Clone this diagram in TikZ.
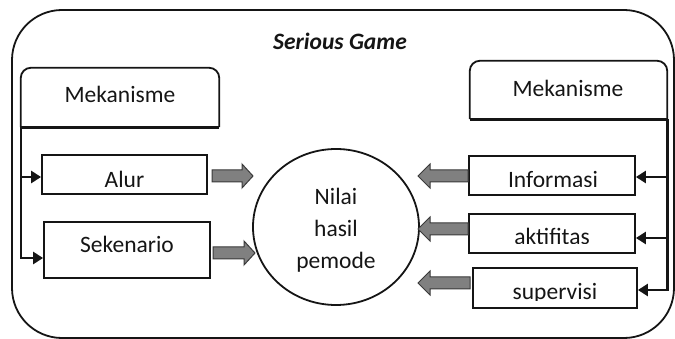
\documentclass[tikz,border=0pt]{standalone}
\usepackage{fontspec}
\setmainfont{Carlito}
\usetikzlibrary{arrows.meta,shapes.geometric}
\definecolor{arrowfill}{HTML}{808080}
\definecolor{arrowline}{HTML}{3A3A3A}
\definecolor{ink}{HTML}{151515}
\tikzset{
  box/.style={draw=ink,line width=1.8pt,rectangle,inner sep=0pt},
  header/.style={rectangle,inner sep=0pt},
  lbl/.style={inner sep=0pt,anchor=base,font=\fontsize{23.5}{28}\selectfont,text=ink},
  conn/.style={draw=ink,line width=2.6pt,-{Triangle[length=10pt,width=12pt]}},
  blockarrow/.style={draw=arrowline,fill=arrowfill,line width=1pt,line join=miter}
}
% #1 tail x, #2 head-base x, #3 tip x, #4 centre y
\newcommand\myblockarrow[4]{%
  \draw[blockarrow] (#1,{#4-6}) -- (#2,{#4-6}) -- (#2,{#4-12}) -- (#3,#4)
    -- (#2,{#4+12}) -- (#2,{#4+6}) -- (#1,{#4+6}) -- cycle;}
\begin{document}
\begin{tikzpicture}[x=1pt,y=-1pt]
\useasboundingbox (0,0) rectangle (675,339);
% outer frame
\draw[ink,line width=1.8pt,rounded corners=50pt] (12,10) rectangle (674,338);
\node[lbl,font=\fontsize{23.5}{28}\selectfont\bfseries\itshape] (title) at (340,50) {Serious Game};

% header boxes (rounded top only)
\node[header,minimum width=198pt,minimum height=59pt] (mekL) at (120,97.5) {};
\draw[ink,line width=1.8pt] (mekL.south west) [rounded corners=10pt] -- (mekL.north west) -- (mekL.north east) [sharp corners] -- (mekL.south east);
\draw[ink,line width=2.8pt] (mekL.south west) -- (mekL.south east);
\node[lbl] (mekLt) at (120,103) {Mekanisme};

\node[header,minimum width=197pt,minimum height=58pt] (mekR) at (568.5,90) {};
\draw[ink,line width=1.8pt] (mekR.south west) [rounded corners=10pt] -- (mekR.north west) -- (mekR.north east) [sharp corners] -- (mekR.south east);
\draw[ink,line width=2.8pt] (mekR.south west) -- (mekR.south east);
\node[lbl] (mekRt) at (568,97) {Mekanisme};

% left boxes
\node[box,minimum width=165pt,minimum height=39pt] (alur) at (124.5,174.5) {};
\begin{scope}\clip (42,156) rectangle (207,186.5);
\node[lbl] (alurt) at (124.5,187.5) {Alur};
\end{scope}
\node[box,minimum width=166pt,minimum height=56pt] (sek) at (127,250) {};
\node[lbl] (sekt) at (127,253) {Sekenario};

% right boxes
\node[box,minimum width=166pt,minimum height=39pt] (info) at (552,175.5) {};
\begin{scope}\clip (469,157) rectangle (635,187);
\node[lbl] (infot) at (553,188) {Informasi};
\end{scope}
\node[box,minimum width=166pt,minimum height=39pt] (akt) at (552,233.5) {};
\begin{scope}\clip (469,215) rectangle (635,244);
\node[lbl] (aktt) at (552,245) {aktifitas};
\end{scope}
\node[box,minimum width=164pt,minimum height=40pt] (sup) at (555,288) {};
\begin{scope}\clip (473,269) rectangle (637,300);
\node[lbl] (supt) at (555,299) {supervisi};
\end{scope}

% centre ellipse
\node[ellipse,draw=ink,line width=1.8pt,minimum width=166pt,minimum height=156pt,inner sep=0pt] (nilai) at (336,227) {};
\node[lbl] (n1) at (336,205) {Nilai};
\node[lbl] (n2) at (336,237) {hasil};
\node[lbl] (n3) at (336,268.5) {pemode};

% block arrows
\myblockarrow{212}{242}{253}{176}
\myblockarrow{213}{244}{255}{253}
\myblockarrow{468}{430}{418}{176}
\myblockarrow{468}{430}{418}{229}
\myblockarrow{470}{430}{418}{283}

% connectors left
\coordinate (la) at ([yshift=-2.5pt]alur.west);
\coordinate (ls) at ([yshift=-8pt]sek.west);
\draw[conn] (mekL.south west) |- (ls);
\draw[conn] (la -| mekL.south west) -- (la);
% connectors right
\coordinate (ri) at ([yshift=-1.5pt]info.east);
\coordinate (ra) at ([yshift=-4.5pt]akt.east);
\coordinate (rs) at ([yshift=-2pt]sup.east);
\draw[conn] (mekR.south east) |- (rs);
\draw[conn] (ri -| mekR.south east) -- (ri);
\draw[conn] (ra -| mekR.south east) -- (ra);
\end{tikzpicture}
\end{document}
